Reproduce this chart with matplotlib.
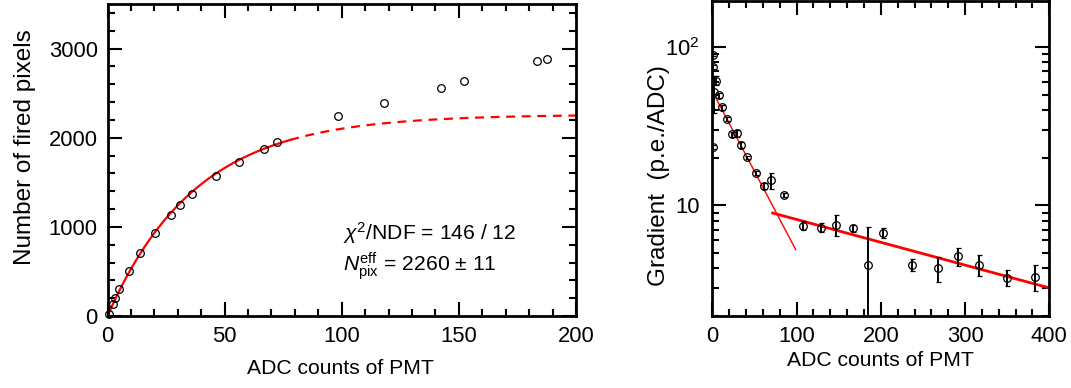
import numpy as np
import matplotlib
matplotlib.use("Agg")
import matplotlib.pyplot as plt
from matplotlib.ticker import MultipleLocator, LogLocator, NullFormatter

plt.rcParams['font.family'] = ['Liberation Sans', 'DejaVu Sans']
plt.rcParams['mathtext.fontset'] = 'custom'
plt.rcParams['mathtext.rm'] = 'Liberation Sans'
plt.rcParams['mathtext.it'] = 'Liberation Sans:italic'
plt.rcParams['mathtext.bf'] = 'Liberation Sans:bold'

# ---------------- data: left panel ----------------
adc_fired = [0.6, 2.3, 3.1, 4.8, 9.0, 13.8, 20.1, 27.2, 31.0, 36.0, 46.2, 56.1,
             67.0, 72.2, 98.3, 118.0, 142.2, 152.4, 183.5, 187.7]
n_fired = [22, 135, 199, 303, 509, 711, 929, 1131, 1247, 1363, 1573, 1727,
           1869, 1947, 2245, 2390, 2560, 2640, 2860, 2878]
# fit parameters: N = Npix * (1 - exp(-g*ADC/Npix))
fit_npix = 2260.0
fit_gain = 60.0
fit_solid_end = 78.0
fit_xmax = 200.0

# ---------------- data: right panel ----------------
adc_grad = [0.5, 1.2, 0.5, 2.5, 4.0, 8.0, 11.9, 17.4, 23.4, 29.0, 33.7, 40.8, 51.5,
            61.0, 69.3, 85.5, 107.7, 129.4, 146.8, 167.4, 184.8, 202.2, 237.4,
            268.3, 292.0, 317.0, 350.2, 383.0]
gradient = [88.6, 74.8, 23.4, 52.0, 61.1, 49.5, 41.6, 35.2, 28.1, 28.5, 24.1, 20.1, 16.0,
            13.2, 14.4, 11.6, 7.45, 7.23, 7.55, 7.16, 4.2, 6.67, 4.2,
            4.01, 4.77, 4.2, 3.5, 3.54]
gradient_err = [1.5, 2.0, 0.8, 14.0, 4.0, 2.0, 1.5, 1.0, 1.0, 1.5, 1.0, 0.5, 0.5,
                0.6, 1.7, 0.3, 0.5, 0.45, 1.15, 0.33, 3.1, 0.48, 0.36,
                0.72, 0.62, 0.63, 0.39, 0.67]
# two exponential fits: G = A * exp(-ADC / tau)
steep_A, steep_tau, steep_range = 52.5, 43.0, (0.0, 99.0)
flat_A, flat_tau, flat_range = 11.34, 301.5, (71.7, 400.0)

W, H = 1071, 388
fig = plt.figure(figsize=(W / 100, H / 100), dpi=100)

def axrect(l, r, t, b):
    return [l / W, (H - b) / H, (r - l) / W, (b - t) / H]

tick_fs = 15.8
lab_fs = 15.2
ylab_fs = 17.5

def style(ax):
    for s in ax.spines.values():
        s.set_linewidth(2.0)
    ax.tick_params(which='both', direction='in', top=True, right=True, width=1.5,
                   labelsize=tick_fs)
    ax.tick_params(which='major', length=10)
    ax.tick_params(which='minor', length=5)

# ---------------- left panel ----------------
ax1 = fig.add_axes(axrect(107.5, 576, 4, 316))
style(ax1)
ax1.plot(adc_fired, n_fired, 'o', ms=5.5, mfc='none', mec='black', mew=0.9,
         zorder=3, clip_on=False)
xs = np.linspace(0, fit_solid_end, 200)
ax1.plot(xs, fit_npix * (1 - np.exp(-fit_gain * xs / fit_npix)), color='red', lw=1.6)
xd = np.linspace(fit_solid_end, fit_xmax, 300)
ax1.plot(xd, fit_npix * (1 - np.exp(-fit_gain * xd / fit_npix)), color='red', lw=1.6,
         dashes=(4, 3))
ax1.set_xlim(0, 200)
ax1.set_ylim(0, 3500)
ax1.xaxis.set_major_locator(MultipleLocator(50))
ax1.xaxis.set_minor_locator(MultipleLocator(10))
ax1.yaxis.set_major_locator(MultipleLocator(1000))
ax1.yaxis.set_minor_locator(MultipleLocator(200))
ax1.tick_params(axis='y', pad=7)
ax1.tick_params(axis='x', pad=7)
ax1.text(0.503, 0.267, r'$\chi^{2}$/NDF = 146 / 12', transform=ax1.transAxes,
         fontsize=lab_fs, ha='left', va='center')
ax1.text(0.503, 0.16, r'$N^{\rm eff}_{\rm pix}$ = 2260 $\pm$ 11', transform=ax1.transAxes,
         fontsize=lab_fs, ha='left', va='center')
fig.text(25 / W, 1 - 147 / H, 'Number of fired pixels', rotation=90, ha='center',
         va='center', fontsize=ylab_fs)
fig.text(340 / W, 1 - 369 / H, 'ADC counts of PMT', ha='center', va='center',
         fontsize=lab_fs)

# ---------------- right panel ----------------
ax2 = fig.add_axes(axrect(712.3, 1049.3, 1, 316))
style(ax2)
ax2.set_yscale('log')
ax2.errorbar(adc_grad, gradient, yerr=gradient_err, fmt='o', ms=5.5, mfc='none',
             mec='black', mew=0.9, ecolor='black', elinewidth=1.4, capsize=1.8,
             capthick=1.4, color='black', zorder=3)
xa = np.linspace(*steep_range, 100)
ax2.plot(xa, steep_A * np.exp(-xa / steep_tau), color='red', lw=1.0)
xb = np.linspace(*flat_range, 100)
ax2.plot(xb, flat_A * np.exp(-xb / flat_tau), color='red', lw=2.0)
ax2.set_xlim(0, 400)
ax2.set_ylim(2, 195)
ax2.xaxis.set_major_locator(MultipleLocator(100))
ax2.xaxis.set_minor_locator(MultipleLocator(20))
ax2.set_yticks([10, 100])
ax2.set_yticklabels(['10', r'10$^{2}$'])
ax2.yaxis.set_minor_locator(LogLocator(base=10, subs=np.arange(2, 10)))
ax2.yaxis.set_minor_formatter(NullFormatter())
ax2.tick_params(axis='y', pad=9)
ax2.tick_params(axis='x', pad=7)
fig.text(659 / W, 1 - 176 / H, 'Gradient  (p.e./ADC)', rotation=90, ha='center',
         va='center', fontsize=ylab_fs)
fig.text(880 / W, 1 - 361 / H, 'ADC counts of PMT', ha='center', va='center',
         fontsize=lab_fs)

fig.savefig('out.png', dpi=100)
